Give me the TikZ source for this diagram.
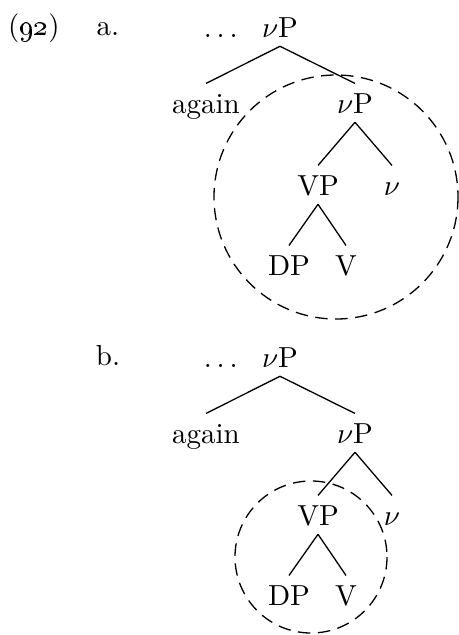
\documentclass[tikz,border=0pt]{standalone}
\usepackage{tikz}
\usetikzlibrary{positioning}

\tikzset{
    lbl/.style={anchor=base, inner sep=3pt, text height=7pt, text depth=0pt},
    branch/.style={line width=0.45pt},
    circdomain/.style={dash pattern=on 4.3pt off 2.6pt, line width=0.45pt}
}

\begin{document}
\begin{tikzpicture}[x=0.345pt, y=-0.345pt]
    \useasboundingbox (0,0) rectangle (459,635);

    \node[lbl] (exnum) at (34,35) {(\oldstylenums{92})};

    % (a) the circle takes in the upper vP
    \node[lbl] (labA) at (108,35) {a.};
    \node[lbl] (rootA) at (280,37) {$\nu$P};
    \node[lbl, left=2pt of rootA, anchor=east] (dotsA) {$\ldots$};
    \node[lbl] (againA) at (206,113) {again};
    \node[lbl] (vpA) at (355,113) {$\nu$P};
    \node[lbl] (VPA) at (318,195) {VP};
    \node[lbl] (vA) at (392,195) {$\nu$};
    \node[lbl] (dpA) at (289,275) {DP};
    \node[lbl] (VA) at (346,275) {V};
    \draw[branch] (rootA.south) -- (againA.north);
    \draw[branch] (rootA.south) -- (vpA.north);
    \draw[branch] (vpA.south) -- (VPA.north);
    \draw[branch] (vpA.south) -- (vA.north);
    \draw[branch] (VPA.south) -- (dpA.north);
    \draw[branch] (VPA.south) -- (VA.north);
    \draw[circdomain] (336,197) circle[radius=122];

    % (b) the circle takes in VP only
    \node[lbl] (labB) at (108,365) {b.};
    \node[lbl] (rootB) at (280,367) {$\nu$P};
    \node[lbl, left=2pt of rootB, anchor=east] (dotsB) {$\ldots$};
    \node[lbl] (againB) at (206,443) {again};
    \node[lbl] (vpB) at (355,443) {$\nu$P};
    \node[lbl] (VPB) at (318,525) {VP};
    \node[lbl] (vB) at (392,525) {$\nu$};
    \node[lbl] (dpB) at (289,605) {DP};
    \node[lbl] (VB) at (346,605) {V};
    \draw[branch] (rootB.south) -- (againB.north);
    \draw[branch] (rootB.south) -- (vpB.north);
    \draw[branch] (vpB.south) -- (VPB.north);
    \draw[branch] (vpB.south) -- (vB.north);
    \draw[branch] (VPB.south) -- (dpB.north);
    \draw[branch] (VPB.south) -- (VB.north);
    \draw[circdomain] (311,557) circle[radius=76];
\end{tikzpicture}
\end{document}
